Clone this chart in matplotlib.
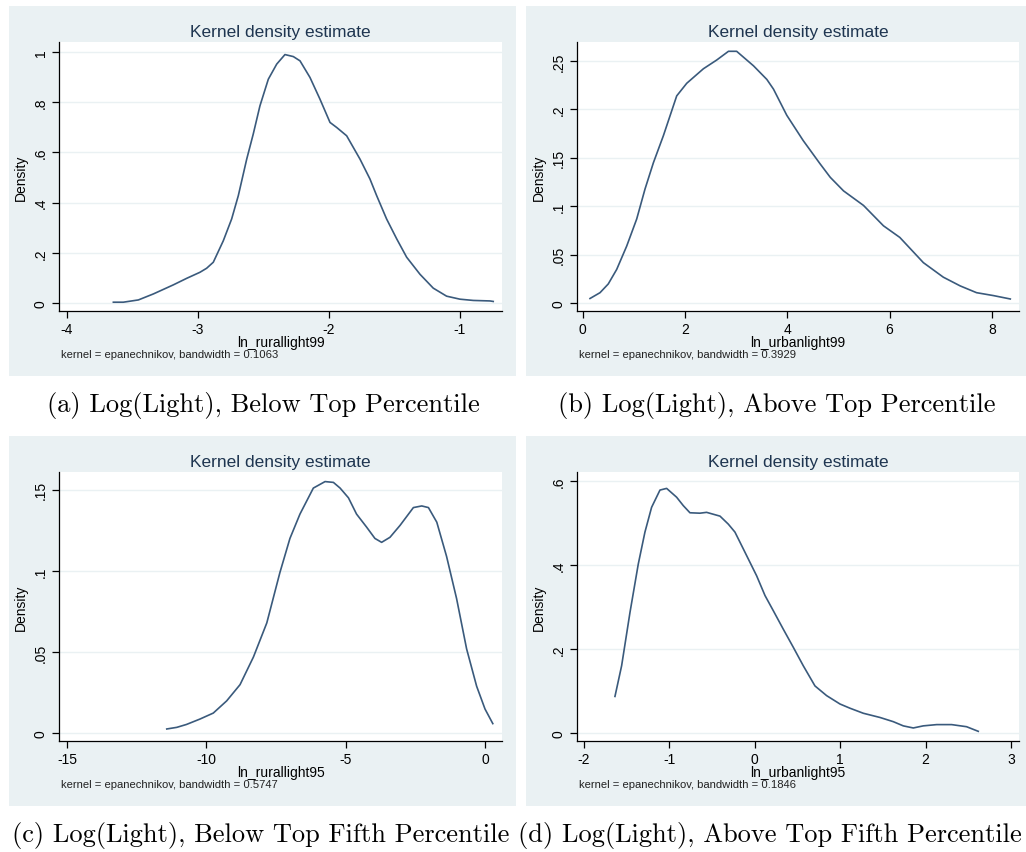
import matplotlib
matplotlib.use("Agg")
import matplotlib.pyplot as plt
from matplotlib.patches import Rectangle

# ---------------- data ----------------
a_x = [-3.646, -3.57, -3.455, -3.34, -3.188, -3.086, -2.985, -2.934, -2.883, -2.807,
       -2.743, -2.692, -2.628, -2.578, -2.527, -2.463, -2.399, -2.336, -2.272, -2.221,
       -2.145, -2.069, -1.992, -1.941, -1.865, -1.763, -1.687, -1.636, -1.560, -1.483,
       -1.407, -1.305, -1.204, -1.102, -1.0, -0.898, -0.771, -0.746]
a_y = [0.004, 0.004, 0.013, 0.037, 0.073, 0.099, 0.123, 0.139, 0.163, 0.248,
       0.335, 0.428, 0.573, 0.673, 0.785, 0.891, 0.951, 0.989, 0.981, 0.964,
       0.898, 0.812, 0.719, 0.699, 0.666, 0.573, 0.494, 0.428, 0.335, 0.256,
       0.183, 0.115, 0.060, 0.028, 0.016, 0.011, 0.009, 0.007]

b_x = [0.143, 0.339, 0.50, 0.665, 0.86, 1.056, 1.219, 1.382, 1.578, 1.838, 2.034,
       2.36, 2.62, 2.85, 3.01, 3.34, 3.6, 3.73, 3.99, 4.31, 4.64, 4.84, 5.10, 5.49,
       5.88, 6.2, 6.66, 7.05, 7.38, 7.70, 8.03, 8.36]
b_y = [0.005, 0.011, 0.020, 0.035, 0.059, 0.087, 0.118, 0.145, 0.173, 0.214, 0.227,
       0.242, 0.251, 0.260, 0.260, 0.245, 0.231, 0.221, 0.194, 0.168, 0.144, 0.130,
       0.116, 0.101, 0.080, 0.068, 0.042, 0.027, 0.018, 0.011, 0.008, 0.0045]

c_x = [-11.42, -11.06, -10.71, -10.23, -9.75, -9.27, -8.79, -8.31, -7.83, -7.36,
       -7.0, -6.64, -6.16, -5.74, -5.44, -5.20, -4.90, -4.61, -4.25, -3.95, -3.71,
       -3.41, -3.05, -2.57, -2.27, -2.03, -1.73, -1.38, -1.02, -0.66, -0.30, 0.0, 0.28]
c_y = [0.0027, 0.0037, 0.0055, 0.0088, 0.0125, 0.020, 0.030, 0.047, 0.068, 0.099,
       0.120, 0.135, 0.151, 0.155, 0.1545, 0.151, 0.145, 0.135, 0.127, 0.120, 0.1176,
       0.1207, 0.128, 0.139, 0.140, 0.139, 0.130, 0.109, 0.083, 0.052, 0.029, 0.015, 0.006]

d_x = [-1.637, -1.559, -1.461, -1.364, -1.286, -1.208, -1.11, -1.032, -0.915, -0.837,
       -0.759, -0.642, -0.564, -0.407, -0.31, -0.232, -0.134, -0.056, 0.022, 0.12,
       0.217, 0.334, 0.451, 0.568, 0.705, 0.841, 0.998, 1.115, 1.271, 1.466, 1.622,
       1.739, 1.856, 1.973, 2.13, 2.305, 2.48, 2.617]
d_y = [0.088, 0.161, 0.288, 0.403, 0.479, 0.538, 0.579, 0.583, 0.562, 0.542,
       0.525, 0.524, 0.526, 0.517, 0.498, 0.479, 0.439, 0.407, 0.375, 0.328,
       0.292, 0.248, 0.205, 0.161, 0.113, 0.090, 0.070, 0.060, 0.048, 0.038, 0.028,
       0.018, 0.013, 0.018, 0.021, 0.021, 0.016, 0.005]

xlabels = ["ln_rurallight99", "ln_urbanlight99", "ln_rurallight95", "ln_urbanlight95"]
bandwidths = ["0.1063", "0.3929", "0.5747", "0.1846"]
captions = ["(a) Log(Light), Below Top Percentile",
            "(b) Log(Light), Above Top Percentile",
            "(c) Log(Light), Below Top Fifth Percentile",
            "(d) Log(Light), Above Top Fifth Percentile"]
xticks = [[-4, -3, -2, -1], [0, 2, 4, 6, 8], [-15, -10, -5, 0], [-2, -1, 0, 1, 2, 3]]
yticks = [[0, 0.2, 0.4, 0.6, 0.8, 1.0], [0, 0.05, 0.1, 0.15, 0.2, 0.25],
          [0, 0.05, 0.1, 0.15], [0, 0.2, 0.4, 0.6]]
yticklabels = [["0", ".2", ".4", ".6", ".8", "1"], ["0", ".05", ".1", ".15", ".2", ".25"],
               ["0", ".05", ".1", ".15"], ["0", ".2", ".4", ".6"]]
xlims = [(-4.061, -0.679), (-0.117, 8.53), (-15.287, 0.61), (-2.085, 3.094)]
ylims = [(-0.031, 1.039), (-0.0079, 0.2696), (-0.0047, 0.1609), (-0.018, 0.622)]
series = [(a_x, a_y), (b_x, b_y), (c_x, c_y), (d_x, d_y)]

# ---------------- layout ----------------
W, H = 1026, 853
fig = plt.figure(figsize=(W / 100, H / 100), dpi=100)
fig.patch.set_facecolor("white")

BG = "#EAF1F3"
LINE = "#3A5A7C"
TITLE = "#1E3550"
SANS = ["Liberation Sans", "DejaVu Sans"]

def fx(px):
    return px / W

def fy(py):
    return 1 - py / H

panel_boxes = [(9, 7, 516, 377), (526, 7, 1026, 377), (9, 437, 516, 807), (526, 437, 1026, 807)]
axes_boxes = [(59, 43, 502, 312), (576.7, 43, 1019, 312), (59, 473, 502, 742), (576.7, 473, 1019, 742)]
cap_pos = [(263, 406, "center"), (777, 406, "center"), (12, 836, "left"), (518, 836, "left")]

for i in range(4):
    x0, y0, x1, y1 = panel_boxes[i]
    fig.patches.append(Rectangle((fx(x0), fy(y1)), fx(x1) - fx(x0), fy(y0) - fy(y1),
                                 transform=fig.transFigure, facecolor=BG,
                                 edgecolor="none", zorder=-5))
    l, t, r, b = axes_boxes[i]
    ax = fig.add_axes([fx(l), fy(b), fx(r) - fx(l), fy(t) - fy(b)])
    ax.set_zorder(2)
    ax.set_facecolor("white")
    xs, ys = series[i]
    ax.plot(xs, ys, color=LINE, lw=1.2)
    ax.set_xlim(*xlims[i])
    ax.set_ylim(*ylims[i])
    ax.set_xticks(xticks[i])
    ax.set_xticklabels([str(v) for v in xticks[i]], fontfamily=SANS, fontsize=10)
    ax.set_yticks(yticks[i])
    ax.set_yticklabels(yticklabels[i], fontfamily=SANS, fontsize=10, rotation=90, va="center")
    for yv in yticks[i]:
        ax.axhline(yv, color=BG, lw=1.0, zorder=0)
    for s in ["top", "right"]:
        ax.spines[s].set_visible(False)
    for s in ["left", "bottom"]:
        ax.spines[s].set_color("black")
        ax.spines[s].set_linewidth(0.9)
    ax.tick_params(direction="out", length=5, width=0.9, color="black", pad=3)
    ax.set_ylabel("Density", fontfamily=SANS, fontsize=10, labelpad=4)
    ax.set_xlabel(xlabels[i], fontfamily=SANS, fontsize=10, labelpad=-1)
    ax.set_title("Kernel density estimate", fontfamily=SANS, fontsize=12.5,
                 color=TITLE, pad=4)
    ax.text(0.005, -0.16, "kernel = epanechnikov, bandwidth = " + bandwidths[i],
            transform=ax.transAxes, fontfamily=SANS, fontsize=8.1, ha="left", va="center",
            color="#222222")
    cx, cy, ha = cap_pos[i]
    fig.text(fx(cx), fy(cy), captions[i], fontfamily="cmr10", fontsize=19,
             ha=ha, va="center", color="black")

fig.savefig("out.png", dpi=100, facecolor="white")
